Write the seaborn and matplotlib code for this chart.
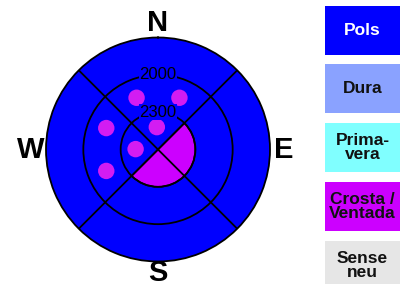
import numpy as np
import pandas as pd
import seaborn as sns
import matplotlib.pyplot as plt
from matplotlib.patches import Rectangle

# snow observations (compass bearing in degrees, ring position)
dot_bearing = [337.5, 22.5, 292.5, 247.5, 357, 271]
dot_ring = [1.5, 1.5, 1.5, 1.5, 0.6, 0.6]

# crust / wind slab sector
sector_start = 45
sector_end = 225
sector_ring = 1

ring_labels = ['2300', '2000']
ring_pos = [1, 2]
compass = ['N', 'E', 'S', 'W']
compass_r = [3.4, 3.38, 3.32, 3.42]

legend_labels = ['Pols', 'Dura', 'Prima-\nvera', 'Crosta /\nVentada', 'Sense\nneu']
legend_colors = ['#0000ff', '#8aa2ff', '#80ffff', '#cc00ff', '#e6e6e6']
legend_text = ['white', '#111111', '#111111', '#111111', '#111111']

sns.set_style('white')
plt.rcParams['font.family'] = ['Liberation Sans', 'DejaVu Sans']

fig = plt.figure(figsize=(4.01, 2.84), dpi=100)
ax = fig.add_axes([46 / 401, (284 - 149.5 - 112) / 284, 224 / 401, 224 / 284], projection='polar')
ax.set_theta_zero_location('N')
ax.set_theta_direction(-1)
ax.set_ylim(0, 3)
ax.set_facecolor('#0000ff')

width = np.deg2rad(sector_end - sector_start)
ax.bar(np.deg2rad(sector_start) + width / 2, sector_ring, width=width, bottom=0,
       color='#cc00ff', edgecolor='black', linewidth=1.2, zorder=2)

df = pd.DataFrame({'theta': np.deg2rad(dot_bearing), 'r': dot_ring})
sns.scatterplot(data=df, x='theta', y='r', ax=ax, s=140, color='#d31cf2',
                edgecolor='none', zorder=3)

ax.set_rticks(ring_pos)
ax.set_yticklabels([])
ax.set_xticks(np.deg2rad([45, 135, 225, 315]))
ax.set_xticklabels([])
ax.grid(True, color='black', linewidth=1.3)
ax.set_axisbelow(False)
ax.spines['polar'].set_color('black')
ax.spines['polar'].set_linewidth(1.3)
ax.set_xlabel('')
ax.set_ylabel('')

for lab, r in zip(ring_labels, ring_pos):
    ax.text(0, r, lab, ha='center', va='center', fontsize=12, color='black', zorder=6,
            bbox=dict(facecolor='#0000ff', edgecolor='none', pad=0.5))

for i, (lab, r) in enumerate(zip(compass, compass_r)):
    ax.text(np.deg2rad(i * 90), r, lab, ha='center', va='center', fontsize=21,
            fontweight='heavy', color='black', clip_on=False)

# legend boxes on the right
tops = [6, 64, 123, 182, 241]
for top, lab, col, tcol in zip(tops, legend_labels, legend_colors, legend_text):
    fig.patches.append(Rectangle((325 / 401, 1 - (top + 49) / 284), 75 / 401, 49 / 284,
                                 transform=fig.transFigure, facecolor=col, edgecolor='none'))
    fig.text(362.5 / 401, 1 - (top + 24.5) / 284, lab, ha='center', va='center',
             fontsize=12.5, fontweight='bold', color=tcol, linespacing=0.95)

fig.savefig('out.png', dpi=100)
